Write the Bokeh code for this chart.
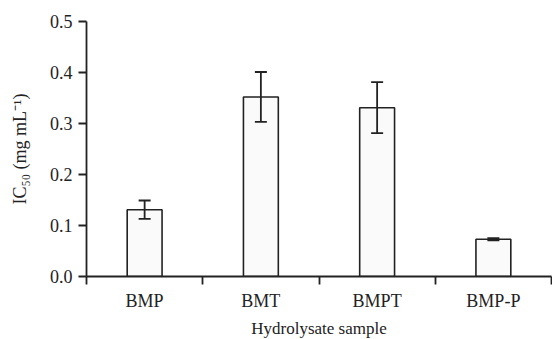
from bokeh.plotting import figure
from bokeh.models import Range1d, FixedTicker, Whisker, TeeHead, ColumnDataSource
from bokeh.embed import file_html
from bokeh.resources import INLINE

categories = ["BMP", "BMT", "BMPT", "BMP-P"]
ic50 = [0.131, 0.352, 0.331, 0.073]
err = [0.018, 0.049, 0.050, 0.002]
y_ticks = [0.0, 0.1, 0.2, 0.3, 0.4, 0.5]

xs = [i + 0.5 for i in range(len(categories))]
src = ColumnDataSource(dict(
    x=xs, top=ic50,
    upper=[v + e for v, e in zip(ic50, err)],
    lower=[v - e for v, e in zip(ic50, err)],
))

p = figure(frame_width=465, frame_height=255, output_backend="svg", toolbar_location=None,
           x_range=Range1d(0, len(categories)), y_range=Range1d(0, 0.5),
           min_border_left=86, min_border_right=1, min_border_top=21, min_border_bottom=63)
p.outline_line_color = None
p.xgrid.visible = False
p.ygrid.visible = False
p.background_fill_color = "white"

p.vbar(x="x", top="top", bottom=0, width=0.3, source=src,
       fill_color="#fafafa", line_color="#222222", line_width=1.6)

w = Whisker(base="x", upper="upper", lower="lower", source=src, level="overlay",
            line_color="#222222", line_width=1.8,
            upper_head=TeeHead(size=12, line_color="#222222", line_width=1.8),
            lower_head=TeeHead(size=12, line_color="#222222", line_width=1.8))
p.add_layout(w)

font = "Liberation Serif"
fs = "18px"

p.xaxis.ticker = FixedTicker(ticks=xs, minor_ticks=list(range(len(categories) + 1)))
p.xaxis.major_label_overrides = {x: c for x, c in zip(xs, categories)}
p.xaxis.major_tick_out = 0
p.xaxis.major_tick_in = 0
p.xaxis.minor_tick_out = 8
p.xaxis.minor_tick_in = 0
p.xaxis.major_label_standoff = 6
p.xaxis.axis_label = "Hydrolysate sample"
p.xaxis.axis_label_standoff = 5

p.yaxis.ticker = FixedTicker(ticks=y_ticks, minor_ticks=[])
p.yaxis.major_label_overrides = {t: f"{t:.1f}" for t in y_ticks}
p.yaxis.major_tick_out = 8
p.yaxis.major_tick_in = 0
p.yaxis.major_label_standoff = 6
p.yaxis.axis_label = "IC\u2085\u2080 (mg mL\u207b\u00b9)"
p.yaxis.axis_label_standoff = 17

for ax in (p.xaxis, p.yaxis):
    ax.axis_line_color = "#222222"
    ax.axis_line_width = 1.8
    ax.major_tick_line_color = "#222222"
    ax.major_tick_line_width = 1.8
    ax.minor_tick_line_color = "#222222"
    ax.minor_tick_line_width = 1.8
    ax.major_label_text_font = font
    ax.major_label_text_font_size = fs
    ax.major_label_text_color = "#222222"
    ax.axis_label_text_font = font
    ax.axis_label_text_font_size = fs
    ax.axis_label_text_font_style = "normal"
    ax.axis_label_text_color = "#222222"

p.xaxis.axis_label_text_font_size = "17px"

open("out.html", "w").write(file_html(p, INLINE))
